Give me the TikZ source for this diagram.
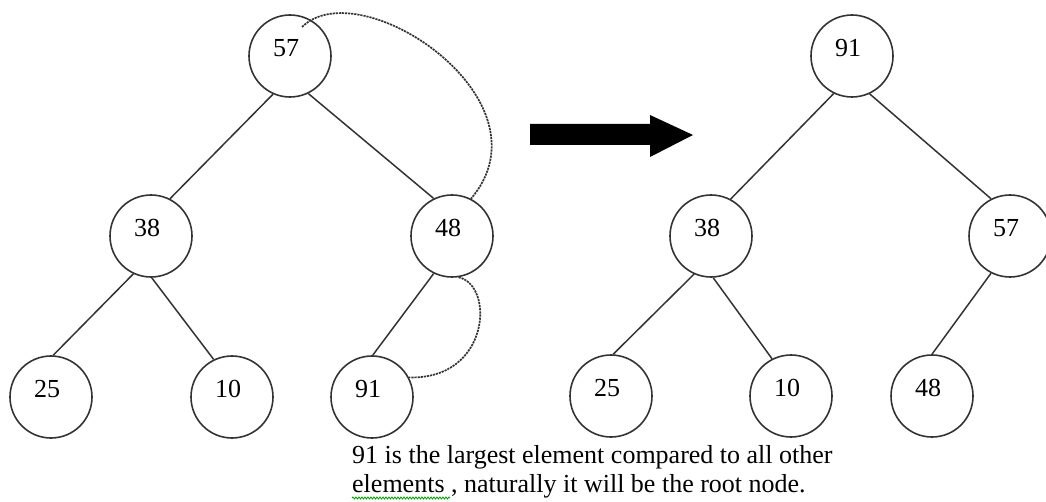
\documentclass[tikz,border=0pt]{standalone}
\usepackage{fontspec}
\setmainfont{Liberation Serif}
\usetikzlibrary{decorations.pathmorphing}
\begin{document}
\begin{tikzpicture}[x=1pt,y=-1pt,
  hnode/.style={circle,draw=black!80,line width=1.6pt,minimum size=82pt,inner sep=0pt},
  hnum/.style={font=\fontsize{26}{30}\selectfont,inner sep=0pt,xshift=-4pt,yshift=8pt},
  tedge/.style={draw=black!80,line width=1.5pt},
  swapline/.style={draw=black!80,line width=1.7pt,dash pattern=on 2.2pt off 0.9pt},
  caption/.style={anchor=base west,inner sep=0pt,font=\fontsize{26}{26}\selectfont}
]
\useasboundingbox (0,0) rectangle (1046,502);
% left tree
\node[hnode,label={[hnum]center:57}] (a57) at (290,56) {};
\node[hnode,label={[hnum]center:38}] (a38) at (151,236) {};
\node[hnode,label={[hnum]center:48}] (a48) at (452,236) {};
\node[hnode,label={[hnum]center:25}] (a25) at (51,397) {};
\node[hnode,label={[hnum]center:10}] (a10) at (232,397) {};
\node[hnode,label={[hnum]center:91}] (a91) at (372,397) {};
\draw[tedge] (a57.-114) -- (a38.63);
\draw[tedge] (a57.-64) -- (a48.116);
\draw[tedge] (a38.-115) -- (a25.87);
\draw[tedge] (a38.-89) -- (a10.116);
\draw[tedge] (a48.-116) -- (a91.89);
% swap curves
\coordinate (s1) at (302,27);
\draw[swapline] (s1) .. controls (360,-30) and (555,100) .. (a48.63);
\draw[swapline] (a48.-81) .. controls (495,285) and (490,380) .. (a91.28);
% big arrow
\fill[black] (530,124) -- (650,124) -- (650,115) -- (693,135) -- (650,157) -- (650,145) -- (530,145) -- cycle;
% right tree
\node[hnode,label={[hnum]center:91}] (b91) at (852,56) {};
\node[hnode,label={[hnum]center:38}] (b38) at (711,236) {};
\node[hnode,label={[hnum]center:57}] (b57) at (1010,236) {};
\node[hnode,label={[hnum]center:25}] (b25) at (611,396) {};
\node[hnode,label={[hnum]center:10}] (b10) at (791,396) {};
\node[hnode,label={[hnum]center:48}] (b48) at (932,396) {};
\draw[tedge] (b91.-116) -- (b38.62);
\draw[tedge] (b91.-65) -- (b57.117);
\draw[tedge] (b38.-114) -- (b25.87);
\draw[tedge] (b38.-87) -- (b10.117);
\draw[tedge] (b57.-117) -- (b48.90);
% caption
\node[caption] (t1) at (352,463) {91 is the largest element compared to all other};
\node[caption] (t2) at (352,492) {elements , naturally it will be the root node.};
\draw[green!60!black,line width=0.8pt,decorate,decoration={snake,amplitude=1pt,segment length=3pt}] (352,498) -- (450,498);
\end{tikzpicture}
\end{document}
